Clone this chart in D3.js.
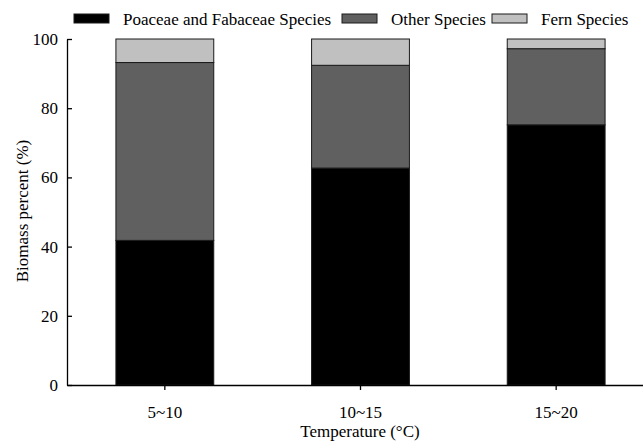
<!DOCTYPE html>
<html lang="en">
<head>
    <meta charset="UTF-8">
    <title>Biomass percent by temperature</title>
    <script src="https://d3js.org/d3.v7.min.js"></script>
    <style>
        body { margin: 0; background: #fff; }
        svg text { font-family: "Liberation Serif", "Times New Roman", serif; fill: #000; }
    </style>
</head>
<body>
<div id="chart"></div>

<script>
    const categories = ["5~10", "10~15", "15~20"];
    const poaceae = [41.8, 62.7, 75.2];
    const other = [51.4, 29.7, 22.0];
    const fern = [6.8, 7.6, 2.8];
    const yTicks = [0, 20, 40, 60, 80, 100];

    const seriesNames = ["Poaceae and Fabaceae Species", "Other Species", "Fern Species"];
    const seriesColors = ["#000000", "#606060", "#c0c0c0"];

    const width = 643, height = 444;
    const margin = { top: 39, right: -11, bottom: 59, left: 67 };

    const svg = d3.select("#chart").append("svg")
        .attr("width", width)
        .attr("height", height);

    const x = d3.scaleBand()
        .domain(categories)
        .range([margin.left, width - margin.right])
        .paddingInner(0.5)
        .paddingOuter(0.25);

    const y = d3.scaleLinear()
        .domain([0, 100])
        .range([height - margin.bottom, margin.top]);

    // stack the three series
    const table = categories.map((c, i) => ({
        cat: c,
        "Poaceae and Fabaceae Species": poaceae[i],
        "Other Species": other[i],
        "Fern Species": fern[i]
    }));
    const stacked = d3.stack().keys(seriesNames)(table);

    svg.append("g")
        .selectAll("g")
        .data(stacked)
        .join("g")
        .attr("fill", (d, i) => seriesColors[i])
        .selectAll("rect")
        .data(d => d)
        .join("rect")
        .attr("x", d => x(d.data.cat))
        .attr("y", d => y(d[1]))
        .attr("width", x.bandwidth())
        .attr("height", d => y(d[0]) - y(d[1]))
        .attr("stroke", "#1a1a1a")
        .attr("stroke-width", 1);

    // y axis, ticks pointing inward
    const yAxis = svg.append("g")
        .attr("transform", `translate(${margin.left},0)`)
        .call(d3.axisRight(y).tickValues(yTicks).tickSize(5).tickSizeOuter(0));
    yAxis.select(".domain").attr("stroke", "#000").attr("stroke-width", 1.3);
    yAxis.selectAll(".tick line").attr("stroke", "#000").attr("stroke-width", 1.3);
    yAxis.selectAll(".tick text")
        .attr("x", -9)
        .attr("text-anchor", "end")
        .attr("font-size", 17);

    // x axis
    const xAxis = svg.append("g")
        .attr("transform", `translate(0,${height - margin.bottom})`)
        .call(d3.axisBottom(x).tickSize(5).tickSizeOuter(0).tickPadding(16));
    xAxis.select(".domain").attr("stroke", "#000").attr("stroke-width", 1.3);
    xAxis.selectAll(".tick line").attr("stroke", "#000").attr("stroke-width", 1.3);
    xAxis.selectAll(".tick text").attr("font-size", 17);

    // axis titles
    svg.append("text")
        .attr("x", 360)
        .attr("y", 437)
        .attr("text-anchor", "middle")
        .attr("font-size", 17)
        .text("Temperature (°C)");

    svg.append("text")
        .attr("transform", "translate(28,211) rotate(-90)")
        .attr("text-anchor", "middle")
        .attr("font-size", 17)
        .text("Biomass percent (%)");

    // legend
    const legendX = [74, 342, 492];
    const legend = svg.append("g")
        .selectAll("g")
        .data(seriesNames)
        .join("g")
        .attr("transform", (d, i) => `translate(${legendX[i]},14)`);
    legend.append("rect")
        .attr("width", 35)
        .attr("height", 9)
        .attr("fill", (d, i) => seriesColors[i])
        .attr("stroke", "#1a1a1a")
        .attr("stroke-width", 1);
    legend.append("text")
        .attr("x", 49)
        .attr("y", 11)
        .attr("font-size", 17)
        .text(d => d);
</script>
</body>
</html>
